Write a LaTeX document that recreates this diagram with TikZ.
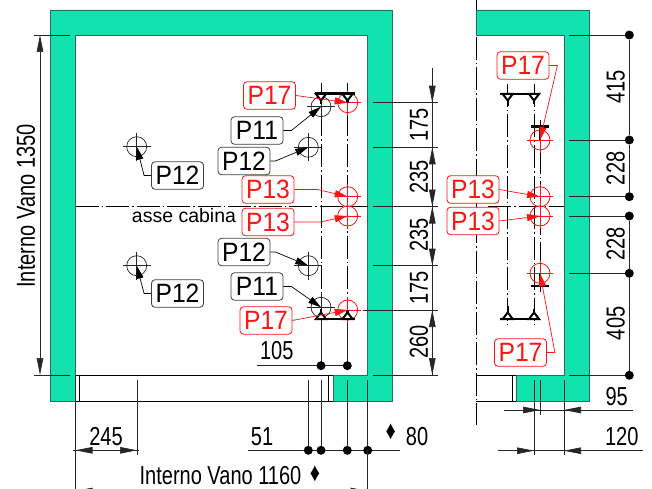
\documentclass[tikz,border=0pt]{standalone}
\usepackage{fontspec}
\setmainfont{Liberation Sans}
\newfontfamily\dimfont[FakeStretch=0.77]{Liberation Sans}
\newfontfamily\labfont[FakeStretch=0.93]{Liberation Sans}
\usetikzlibrary{arrows.meta}
\definecolor{cus-teal}{RGB}{18, 226, 174}
\definecolor{cus-edge}{RGB}{40, 110, 95}
\definecolor{cus-red}{RGB}{255, 20, 20}
\tikzset{
	blacklab/.style={draw=black!75,fill=white,rounded corners=3.5pt,minimum width=52pt,minimum height=27.5pt,inner sep=0pt,line width=0.8pt,font=\labfont\fontsize{26.5}{26.5}\selectfont},
	redlab/.style={blacklab,draw=cus-red,text=cus-red},
	dimtext/.style={font=\dimfont\fontsize{26}{26}\selectfont,inner sep=0pt},
	dimline/.style={line width=0.7pt,black!85},
	dimtip/.style={dimline,-{Triangle[length=17pt,width=6.5pt]},shorten >=0pt},
	axisline/.style={line width=0.6pt,dash pattern=on 23pt off 3pt on 1.5pt off 3pt},
	wallshape/.style={fill=cus-teal,draw=cus-edge,line width=0.9pt},
	blackleader/.style={line width=0.7pt,-{Triangle[length=13pt,width=7pt]}},
	redleader/.style={line width=0.7pt,cus-red,-{Triangle[length=13pt,width=7pt]}},
	blackhole/.style={circle,draw=black!85,minimum size=20pt,inner sep=0pt,line width=0.7pt},
	redhole/.style={circle,draw=cus-red,minimum size=20pt,inner sep=0pt,line width=0.8pt},
	dimdot/.style={circle,fill=black,minimum size=9pt,inner sep=0pt},
}
\begin{document}
\begin{tikzpicture}[x=1pt,y=-1pt]
\useasboundingbox (0,0) rectangle (652,489);
\fill [white] (0,0) rectangle (652,489);

% walls
\draw [wallshape] (75.5,375) -- (75.5,401) -- (50,401) -- (50,10) -- (392.5,10) -- (392.5,401) -- (333,401) -- (333,375) -- (367.5,375) -- (367.5,35) -- (75.5,35) -- cycle;
\draw [wallshape] (476,35) -- (476,10) -- (589,10) -- (589,401) -- (516,401) -- (516,375) -- (564,375) -- (564,35) -- cycle;
\draw [line width=0.7pt] (75.5,375) -- (333,375) (75.5,401) -- (333,401) (79,375) -- (79,401) (328,375) -- (328,401);
\draw [line width=0.7pt] (476,375) -- (516,375) (476,401) -- (516,401) (512.5,375) -- (512.5,401);
\draw [line width=0.7pt] (476,0) -- (476,10);

% axes
\draw [axisline] (75.5,206.5) -- (367.5,206.5);
\draw [axisline] (488,206.5) -- (564,206.5);
\draw [axisline] (476,37) -- (476,425);
\draw [axisline] (321,83) -- (321,316);
\draw [axisline] (347.5,83) -- (347.5,310);
\draw [axisline] (507.7,84) -- (507.7,328);
\draw [axisline] (534,84) -- (534,328);
\draw [axisline] (540,120) -- (540,292);
\draw [dimline] (321,316) -- (321,365.7) (347.5,316) -- (347.5,365.7);
\node [inner sep=0pt,font=\fontsize{19.5}{19.5}\selectfont] (asse) at (184,216) {asse cabina};

% holes
\foreach \name/\x/\y in {holeA/321/106.7,holeB/321/307.3,holeC/308.3/147.3,holeD/308.3/265.7,holeE/136.7/146.7,holeF/136.7/265.7} {
	\node [blackhole] (\name) at (\x,\y) {};
	\draw [line width=0.6pt,black!85] (\x-14,\y) -- (\x+14,\y) (\x,\y-14) -- (\x,\y+14);
}
\foreach \name/\x/\y in {redA/347.7/102.7,redB/347.7/196.7,redC/347.7/216,redD/347.7/310,redE/540/140,redF/540/196.7,redG/540/216,redH/540/273.3} {
	\node [redhole] (\name) at (\x,\y) {};
	\draw [line width=0.5pt,cus-red] (\x-13,\y) -- (\x+13,\y) (\x,\y-13) -- (\x,\y+13);
}

% brackets
\foreach \x in {321,347.5,507.7,534} {
	\draw [line width=2pt,fill=white] (\x-5,94) -- (\x+5,94) -- (\x,100.5) -- cycle;
	\draw [line width=2pt,fill=white] (\x-5,319) -- (\x+5,319) -- (\x,312.5) -- cycle;
}
\draw [line width=2.8pt] (315,93.5) -- (355,93.5) (315,319) -- (355,319);
\draw [line width=2.8pt] (500,94) -- (540,94) (500,319) -- (540,319);
\draw [line width=2.4pt] (321,100) -- (321,104) (321,312.5) -- (321,309);
\draw [line width=2.4pt] (347.5,100) -- (347.5,103) (347.5,312.5) -- (347.5,310);
\draw [line width=2.4pt] (507.7,100) -- (507.7,106) (507.7,312.5) -- (507.7,306) (534,100) -- (534,104) (534,312.5) -- (534,309);
\draw [line width=2.4pt] (531,126.7) -- (549,126.7) (531,286) -- (549,286);
\draw [line width=2.4pt] (540,126.7) -- (540,140) (540,286) -- (540,273.3);

% labels
\node [redlab] (labA) at (269.5,95.5) {P17};
\node [blacklab] (labB) at (257,130.5) {P11};
\node [blacklab] (labC) at (244,161) {P12};
\node [redlab] (labD) at (268,189.5) {P13};
\node [redlab] (labE) at (268,222) {P13};
\node [blacklab] (labF) at (244,252) {P12};
\node [blacklab] (labG) at (257,286.5) {P11};
\node [redlab] (labH) at (266,320.5) {P17};
\node [blacklab] (labI) at (177.5,175.5) {P12};
\node [blacklab] (labJ) at (177.5,293.5) {P12};
\node [redlab] (labK) at (523,65.5) {P17};
\node [redlab] (labL) at (473,189.5) {P13};
\node [redlab] (labM) at (473,221) {P13};
\node [redlab] (labN) at (520.5,352.5) {P17};

% leaders
\draw [redleader] (labA.east) -- (redA.center);
\draw [blackleader] (labB.east) -- ++(8,0) -- (holeA.center);
\draw [blackleader] (labC.east) -- ++(5,0) -- (holeC.center);
\draw [redleader] (labD.east) -- ++(23,0) -- (redB.center);
\draw [redleader] (labE.east) -- ++(26,0) -- (redC.center);
\draw [blackleader] (labF.east) -- ++(5,0) -- (holeD.center);
\draw [blackleader] (labG.east) -- ++(8,0) -- (holeB.center);
\draw [redleader] (labH.east) -- (redD.center);
\draw [blackleader] (labI.west) -- ++(-7,0) -- (holeE.center);
\draw [blackleader] (labJ.west) -- ++(-7,0) -- (holeF.center);
\draw [redleader] (labK.east) -- ++(8,0) -- (redE.center);
\draw [redleader] (labL.east) -- (redF.center);
\draw [redleader] (labM.east) -- (redG.center);
\draw [redleader] (labN.east) -- ++(8,0) -- (redH.center);

% left and top dimensions
\coordinate (levelA) at (40,35);
\coordinate (levelB) at (40,375);
\draw [dimline] (34,35) -- (70,35) (34,375) -- (70,375);
\draw [dimtip] (40,206) -- (levelA);
\draw [dimtip] (40,206) -- (levelB);
\node [dimtext,rotate=90] (vanoH) at (26,206) {Interno Vano 1350};

\draw [dimline] (372.5,102.7) -- (438,102.7) (372.5,147.3) -- (438,147.3) (372.5,206.5) -- (438,206.5) (372.5,265.7) -- (438,265.7) (363,310) -- (438,310) (372.5,375) -- (438,375);
\draw [dimline] (432.3,68) -- (432.3,375);
\draw [dimtip] (432.3,68) -- (432.3,102.7);
\draw [dimtip] (432.3,170) -- (432.3,147.3);
\draw [dimtip] (432.3,185) -- (432.3,206.5);
\draw [dimtip] (432.3,228) -- (432.3,206.5);
\draw [dimtip] (432.3,245) -- (432.3,265.7);
\draw [dimtip] (432.3,332) -- (432.3,310);
\draw [dimtip] (432.3,355) -- (432.3,375);
\node [dimtext,rotate=90] (dimA) at (419,125) {175};
\node [dimtext,rotate=90] (dimB) at (419,177) {235};
\node [dimtext,rotate=90] (dimC) at (419,235) {235};
\node [dimtext,rotate=90] (dimD) at (419,288) {175};
\node [dimtext,rotate=90] (dimE) at (419,342) {260};

% right dimensions
\foreach \name/\y in {dotA/35,dotB/140,dotC/196.7,dotD/216,dotE/273.3,dotF/375.3} {
	\node [dimdot] (\name) at (629.3,\y) {};
	\draw [dimline] (569,\y) -- (\name);
}
\draw [dimline] (dotA) -- (dotB) -- (dotC) (dotD) -- (dotE) -- (dotF);
\node [dimtext,rotate=90] (dimF) at (615.7,86.7) {415};
\node [dimtext,rotate=90] (dimG) at (615.7,168.3) {228};
\node [dimtext,rotate=90] (dimH) at (615.7,244) {228};
\node [dimtext,rotate=90] (dimI) at (615.7,323.3) {405};

% bottom dimensions
\draw [dimline] (534,380) -- (534,455) (540,380) -- (540,415) (564,380) -- (564,455);
\draw [dimline] (504,410) -- (632.7,410) (498,450.7) -- (642.7,450.7);
\draw [dimtip] (504,410) -- (540,410);
\draw [dimtip] (600,410) -- (564,410);
\draw [dimtip] (498,450.7) -- (534,450.7);
\draw [dimtip] (600,450.7) -- (564,450.7);
\node [dimtext] (dimJ) at (616.7,396.7) {95};
\node [dimtext] (dimK) at (621.7,436.7) {120};

\draw [dimline] (75.5,375) -- (75.5,489) (137,380) -- (137,455) (73,450.3) -- (139,450.3);
\draw [dimtip] (106,450.3) -- (75.5,450.3);
\draw [dimtip] (106,450.3) -- (137,450.3);
\node [dimtext] (dimL) at (106,436.7) {245};

\draw [dimline] (256.7,365.7) -- (347.3,365.7);
\node [dimdot] (dotG) at (321,365.7) {};
\node [dimdot] (dotH) at (347.3,365.7) {};
\node [dimtext] (dimM) at (276.7,351) {105};

\draw [dimline] (248,450.3) -- (400,450.3);
\foreach \name/\x in {dotI/308.3,dotJ/321,dotK/347.3,dotL/367.7} {
	\node [dimdot] (\name) at (\x,450.3) {};
	\draw [dimline] (\x,380) -- (\name);
}
\draw [dimline] (367.7,450.3) -- (367.7,489);
\node [dimtext] (dimN) at (262,436.7) {51};
\node [dimtext] (dimD1) at (390.7,432) {♦};
\node [dimtext] (dimO) at (417,436.7) {80};
\node [dimtext] (vanoW) at (220.5,475.7) {Interno Vano 1160};
\node [dimtext] (dimD2) at (315,474) {♦};
\draw [dimtip] (100,491) -- (75.5,491);
\draw [dimtip] (340,491) -- (367.7,491);
\end{tikzpicture}
\end{document}
